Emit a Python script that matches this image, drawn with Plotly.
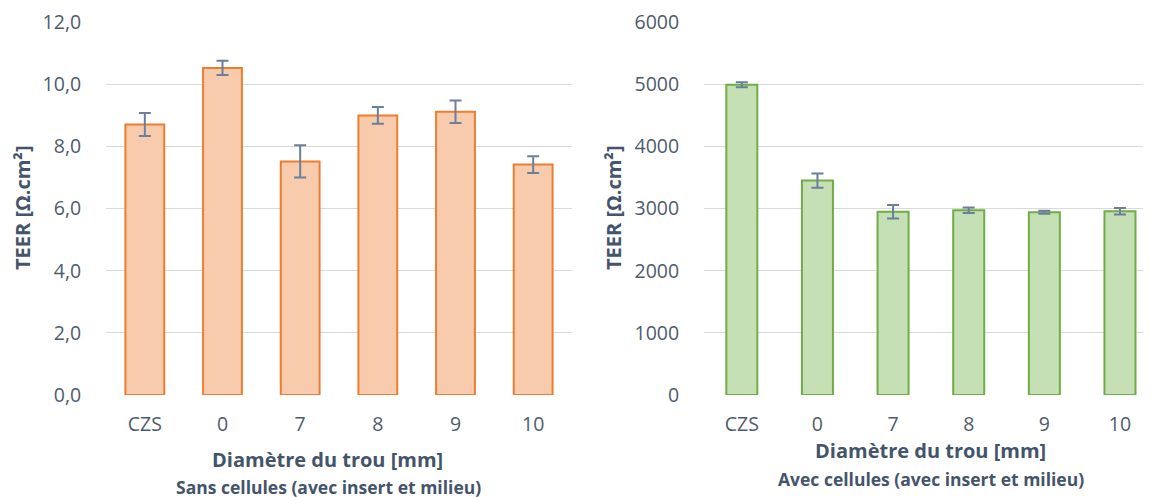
import plotly.graph_objects as go

categories = ["CZS", "0", "7", "8", "9", "10"]

# Sans cellules
teer_sans = [8.71, 10.53, 7.52, 9.00, 9.12, 7.42]
err_sans = [0.37, 0.23, 0.52, 0.27, 0.36, 0.27]

# Avec cellules
teer_avec = [4995, 3452, 2950, 2974, 2942, 2958]
err_avec = [40, 115, 110, 45, 25, 52]

W, H = 1151, 497
OFF = 8  # page body margin
TOP, BOTTOM = 20, 395  # plot area in screen pixels
TXT = "#44546A"
TICK = "#4F5B6B"
ERR = "#6A7F9C"
FONT = "Open Sans"


def px(x):
    return (x - OFF) / W


def py(y):
    return (BOTTOM - y) / (BOTTOM - TOP)


fig = go.Figure()

fig.add_trace(go.Bar(
    x=categories, y=teer_sans, width=0.5,
    marker=dict(color="#F8CBAD", line=dict(color="#ED7D31", width=2)),
    error_y=dict(type="data", array=err_sans, color=ERR, thickness=2, width=6),
    xaxis="x", yaxis="y", showlegend=False,
))

fig.add_trace(go.Bar(
    x=categories, y=teer_avec, width=0.41,
    marker=dict(color="#C5E0B4", line=dict(color="#70AD47", width=2)),
    error_y=dict(type="data", array=err_avec, color=ERR, thickness=2, width=6),
    xaxis="x2", yaxis="y2", showlegend=False,
))

axis_common = dict(
    showline=False, zeroline=False,
    tickfont=dict(family=FONT, size=19.5, color=TICK),
)

fig.update_layout(
    width=W, height=H,
    paper_bgcolor="white", plot_bgcolor="white",
    margin=dict(l=0, r=0, t=TOP - OFF, b=H - (BOTTOM - OFF)),
    separators=", ",
    font=dict(family=FONT, color=TXT),
    xaxis=dict(domain=[px(106), px(572)], anchor="y", range=[-0.5, 5.5],
               showgrid=False, ticks="outside", ticklen=12,
               tickcolor="rgba(0,0,0,0)", **axis_common),
    yaxis=dict(domain=[0, 1], anchor="x", range=[0, 12.01], dtick=2,
               tickformat=".1f", showgrid=True, gridcolor="#D9D9D9",
               ticks="outside", ticklen=20, tickcolor="rgba(0,0,0,0)",
               ticklabeloverflow="allow", **axis_common),
    xaxis2=dict(domain=[px(704), 1.0], anchor="y2", range=[-0.5, 5.516],
                showgrid=False, ticks="outside", ticklen=12,
                tickcolor="rgba(0,0,0,0)", **axis_common),
    yaxis2=dict(domain=[0, 1], anchor="x2", range=[0, 6005], dtick=1000,
                tickformat="d", showgrid=True, gridcolor="#D9D9D9",
                ticks="outside", ticklen=20, tickcolor="rgba(0,0,0,0)",
                ticklabeloverflow="allow", **axis_common),
)

titles = [
    dict(x=327, y=460, text="<b>Diamètre du trou [mm]</b>", size=20, angle=0),
    dict(x=328, y=487, text="<b>Sans cellules (avec insert et milieu)</b>", size=17.5, angle=0),
    dict(x=930, y=451, text="<b>Diamètre du trou [mm]</b>", size=20, angle=0),
    dict(x=931, y=479, text="<b>Avec cellules (avec insert et milieu)</b>", size=17.5, angle=0),
    dict(x=22, y=207, text="<b>TEER [Ω.cm²]</b>", size=20, angle=-90),
    dict(x=613, y=207, text="<b>TEER [Ω.cm²]</b>", size=20, angle=-90),
]
for t in titles:
    fig.add_annotation(
        x=px(t["x"]), y=py(t["y"]), xref="paper", yref="paper",
        yanchor="middle", xanchor="center", showarrow=False,
        text=t["text"], textangle=t["angle"],
        font=dict(family=FONT, size=t["size"], color=TXT),
    )

fig.write_html("out.html")
